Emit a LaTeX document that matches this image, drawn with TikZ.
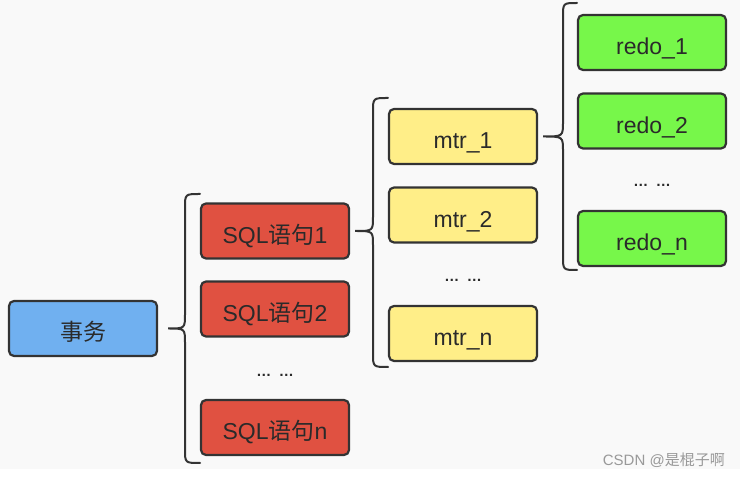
\documentclass[tikz,border=0pt]{standalone}
\usepackage{fontspec}
\setmainfont{Liberation Sans}
\newfontfamily\cjk{Noto Sans CJK SC}
\usetikzlibrary{calc}
\definecolor{bgc}{HTML}{F9F9F9}
\definecolor{bluec}{HTML}{70B0F0}
\definecolor{redc}{HTML}{E05141}
\definecolor{yelc}{HTML}{FFEE88}
\definecolor{grnc}{HTML}{77F74A}
\definecolor{edgec}{HTML}{333333}
\definecolor{txtc}{HTML}{2A2A2A}
\definecolor{wmc}{HTML}{999999}
\tikzset{
  box/.style={draw=edgec, line width=2.2pt, rounded corners=5pt,
    minimum width=148pt, minimum height=55pt, inner sep=0pt,
    text height=25pt, text depth=0pt,
    text=txtc, font=\fontsize{23}{27}\selectfont},
  brace/.style={draw=edgec, line width=2pt, line cap=round},
  dotsn/.style={text=txtc, font=\fontsize{15}{18}\selectfont, inner sep=0pt}
}
\begin{document}
\begin{tikzpicture}[x=1pt,y=-1pt]
\useasboundingbox (0,0) rectangle (740,478);
\fill[white] (0,0) rectangle (740,478);
\fill[bgc] (0,0) rectangle (740,469);

\node[box, fill=bluec] (sw) at (83,328.5) {\cjk 事务};

\node[box, fill=redc] (sql1) at (275,231) {SQL{\cjk 语句}1};
\node[box, fill=redc] (sql2) at (275,309) {SQL{\cjk 语句}2};
\node[dotsn] (sqld) at (275,375) {\textbf{…\enspace…}};
\node[box, fill=redc] (sqln) at (275,427.5) {SQL{\cjk 语句}n};

\node[box, fill=yelc] (m1) at (463,136.5) {mtr\_1};
\node[box, fill=yelc] (m2) at (463,215) {mtr\_2};
\node[dotsn] (md) at (463,280) {\textbf{…\enspace…}};
\node[box, fill=yelc] (mn) at (463,333.5) {mtr\_n};

\node[box, fill=grnc] (r1) at (652,42.5) {redo\_1};
\node[box, fill=grnc] (r2) at (652,121) {redo\_2};
\node[dotsn] (rd) at (652,185) {\textbf{…\enspace…}};
\node[box, fill=grnc] (rn) at (652,238.5) {redo\_n};

\coordinate (t1) at ($(sw.east)+(10,0)$);
\coordinate (t2) at ($(sql1.east)+(5,0)$);
\coordinate (t3) at ($(m1.east)+(5,0)$);

\draw[brace] (200,194) .. controls (185,194) .. (185,208)
  -- (185,314) .. controls (185,328.5) .. (t1)
  .. controls (185,328.5) .. (185,343)
  -- (185,449) .. controls (185,463) .. (200,463);
\draw[brace] (388,98) .. controls (373,98) .. (373,112)
  -- (373,217) .. controls (373,231) .. (t2)
  .. controls (373,231) .. (373,245)
  -- (373,353) .. controls (373,367) .. (388,367);
\draw[brace] (577,3) .. controls (563,3) .. (563,17)
  -- (563,122) .. controls (563,136.5) .. (t3)
  .. controls (563,136.5) .. (563,151)
  -- (563,256) .. controls (563,270) .. (577,270);

\node[text=wmc, font=\fontsize{15}{18}\selectfont, anchor=east, inner sep=0pt] (wm) at (725,460) {CSDN @{\cjk 是棍子啊}};
\end{tikzpicture}
\end{document}
